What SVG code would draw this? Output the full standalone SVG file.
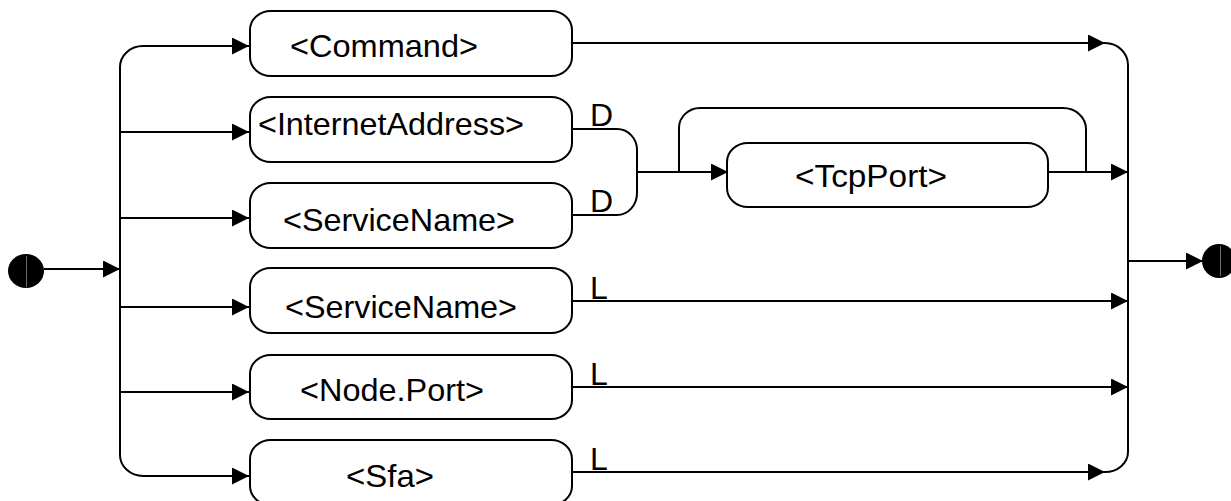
<svg xmlns="http://www.w3.org/2000/svg" width="1231" height="501" viewBox="0 0 1231 501">
  <style>
    .box { fill: #ffffff; stroke: #000000; stroke-width: 2; }
    .lbl { font-family: "Liberation Sans", Arial, sans-serif; font-size: 32px; fill: #000000; }
    .wire { fill: none; stroke: #000000; stroke-width: 2; }
    .arr { fill: none; stroke: #000000; stroke-width: 2; marker-end: url(#head); }
    .dot { fill: #000000; }
    .dot-mark { stroke: #9a9a9a; stroke-width: 0.7; }
  </style>
  <defs>
    <marker id="head" markerUnits="userSpaceOnUse" markerWidth="18" markerHeight="18" refX="17" refY="8.5" orient="auto">
      <path d="M0,0 L17,8.5 L0,17 z" fill="#000000"/>
    </marker>
  </defs>

  <rect width="1231" height="501" fill="#ffffff"/>

  <!-- connectors -->
  <g id="connectors">
    <!-- entry and left fan-out bus -->
    <path class="arr" d="M44,269 L120,269"/>
    <path class="wire" d="M143,46 A23,21 0 0 0 120,67 L120,455 A23,21 0 0 0 143,476"/>
    <path class="arr" d="M143,46 L249,46"/>
    <path class="arr" d="M120,132 L249,132"/>
    <path class="arr" d="M120,218 L249,218"/>
    <path class="arr" d="M120,307 L249,307"/>
    <path class="arr" d="M120,392 L249,392"/>
    <path class="arr" d="M143,476 L249,476"/>

    <!-- right fan-in bus and exit -->
    <path class="wire" d="M1105,43 A23,22 0 0 1 1128,65 L1128,452 A23,20 0 0 1 1105,472"/>
    <path class="arr" d="M572,43 L1105,43"/>
    <path class="arr" d="M572,301 L1128,301"/>
    <path class="arr" d="M572,387 L1128,387"/>
    <path class="arr" d="M572,472 L1105,472"/>
    <path class="arr" d="M1128,261 L1203,261"/>

    <!-- D join of address/service into TcpPort -->
    <path class="wire" d="M572,129 L617,129 A20,21 0 0 1 637,150 L637,193 A20,22 0 0 1 617,215 L572,215"/>
    <path class="arr" d="M637,172 L728,172"/>
    <path class="wire" d="M679,172 L679,128 A21,20 0 0 1 700,108 L1063,108 A23,21 0 0 1 1086,129 L1086,172"/>
    <path class="arr" d="M1048,172 L1128,172"/>

    <!-- connector labels -->
    <text class="lbl" x="590" y="126">D</text>
    <text class="lbl" x="590" y="212">D</text>
    <text class="lbl" x="590" y="299">L</text>
    <text class="lbl" x="590" y="385">L</text>
    <text class="lbl" x="590" y="470">L</text>
  </g>

  <!-- start and end points -->
  <g id="start">
    <ellipse class="dot" cx="26" cy="271" rx="18" ry="17"/>
    <line class="dot-mark" x1="26.5" y1="256" x2="26.5" y2="287"/>
  </g>
  <g id="end">
    <ellipse class="dot" cx="1219" cy="261" rx="17" ry="17"/>
    <line class="dot-mark" x1="1220.5" y1="246" x2="1220.5" y2="276"/>
  </g>

  <!-- nodes -->
  <g id="command">
    <rect class="box" x="250" y="11" width="322" height="65" rx="21" ry="19"/>
    <text class="lbl" x="290" y="57" textLength="188" lengthAdjust="spacingAndGlyphs">&lt;Command&gt;</text>
  </g>
  <g id="internet-address">
    <rect class="box" x="250" y="97" width="322" height="65" rx="21" ry="19"/>
    <text class="lbl" x="258" y="135" textLength="266" lengthAdjust="spacingAndGlyphs">&lt;InternetAddress&gt;</text>
  </g>
  <g id="service-name-d">
    <rect class="box" x="250" y="183" width="322" height="65" rx="21" ry="19"/>
    <text class="lbl" x="283" y="231" textLength="232" lengthAdjust="spacingAndGlyphs">&lt;ServiceName&gt;</text>
  </g>
  <g id="service-name-l">
    <rect class="box" x="250" y="268" width="322" height="65" rx="21" ry="19"/>
    <text class="lbl" x="285" y="318" textLength="232" lengthAdjust="spacingAndGlyphs">&lt;ServiceName&gt;</text>
  </g>
  <g id="node-port">
    <rect class="box" x="250" y="355" width="322" height="64" rx="21" ry="19"/>
    <text class="lbl" x="300" y="401" textLength="184" lengthAdjust="spacingAndGlyphs">&lt;Node.Port&gt;</text>
  </g>
  <g id="sfa">
    <rect class="box" x="250" y="440" width="322" height="65" rx="21" ry="19"/>
    <text class="lbl" x="346" y="487" textLength="88" lengthAdjust="spacingAndGlyphs">&lt;Sfa&gt;</text>
  </g>
  <g id="tcp-port">
    <rect class="box" x="727" y="143" width="321" height="64" rx="21" ry="19"/>
    <text class="lbl" x="795" y="187" textLength="152" lengthAdjust="spacingAndGlyphs">&lt;TcpPort&gt;</text>
  </g>
</svg>
